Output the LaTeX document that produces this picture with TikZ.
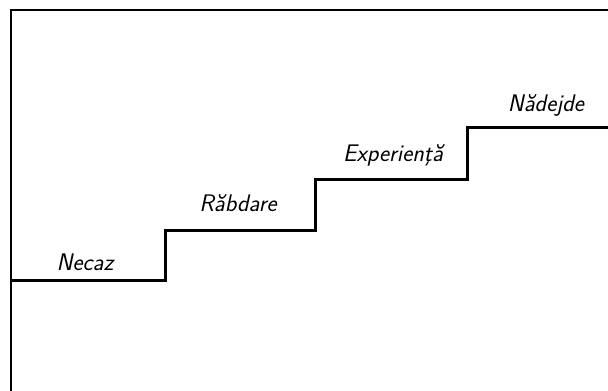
\documentclass[tikz,border=0pt]{standalone}
\usepackage{fontspec}
\usepackage{tikz}
\tikzset{every picture/.style={line width=0.75pt}}
\tikzset{steplabel/.style={anchor=base,inner sep=0.75pt,font=\fontsize{18}{21}\selectfont\sffamily\itshape}}

\begin{document}
\begin{tikzpicture}[x=0.75pt,y=0.75pt,yscale=-1,xscale=1]
\useasboundingbox (0,0) rectangle (608,391);

%Frame
\draw [line width=1.2]  (11,391) -- (11,10) -- (608,10) ;
%Stairs
\draw [line width=2.25]  (11,281) -- (165,281) -- (165,231) -- (315,231) -- (315,180) -- (467,180) -- (467,128) -- (608,128) ;

% Text Node
\node (necaz) [steplabel] at (85,271) {Necaz};
% Text Node
\node (rabdare) [steplabel] at (238,212) {Răbdare};
% Text Node
\node (experienta) [steplabel] at (393,162) {Experienţă};
% Text Node
\node (nadejde) [steplabel] at (546,112) {Nădejde};

\end{tikzpicture}
\end{document}
